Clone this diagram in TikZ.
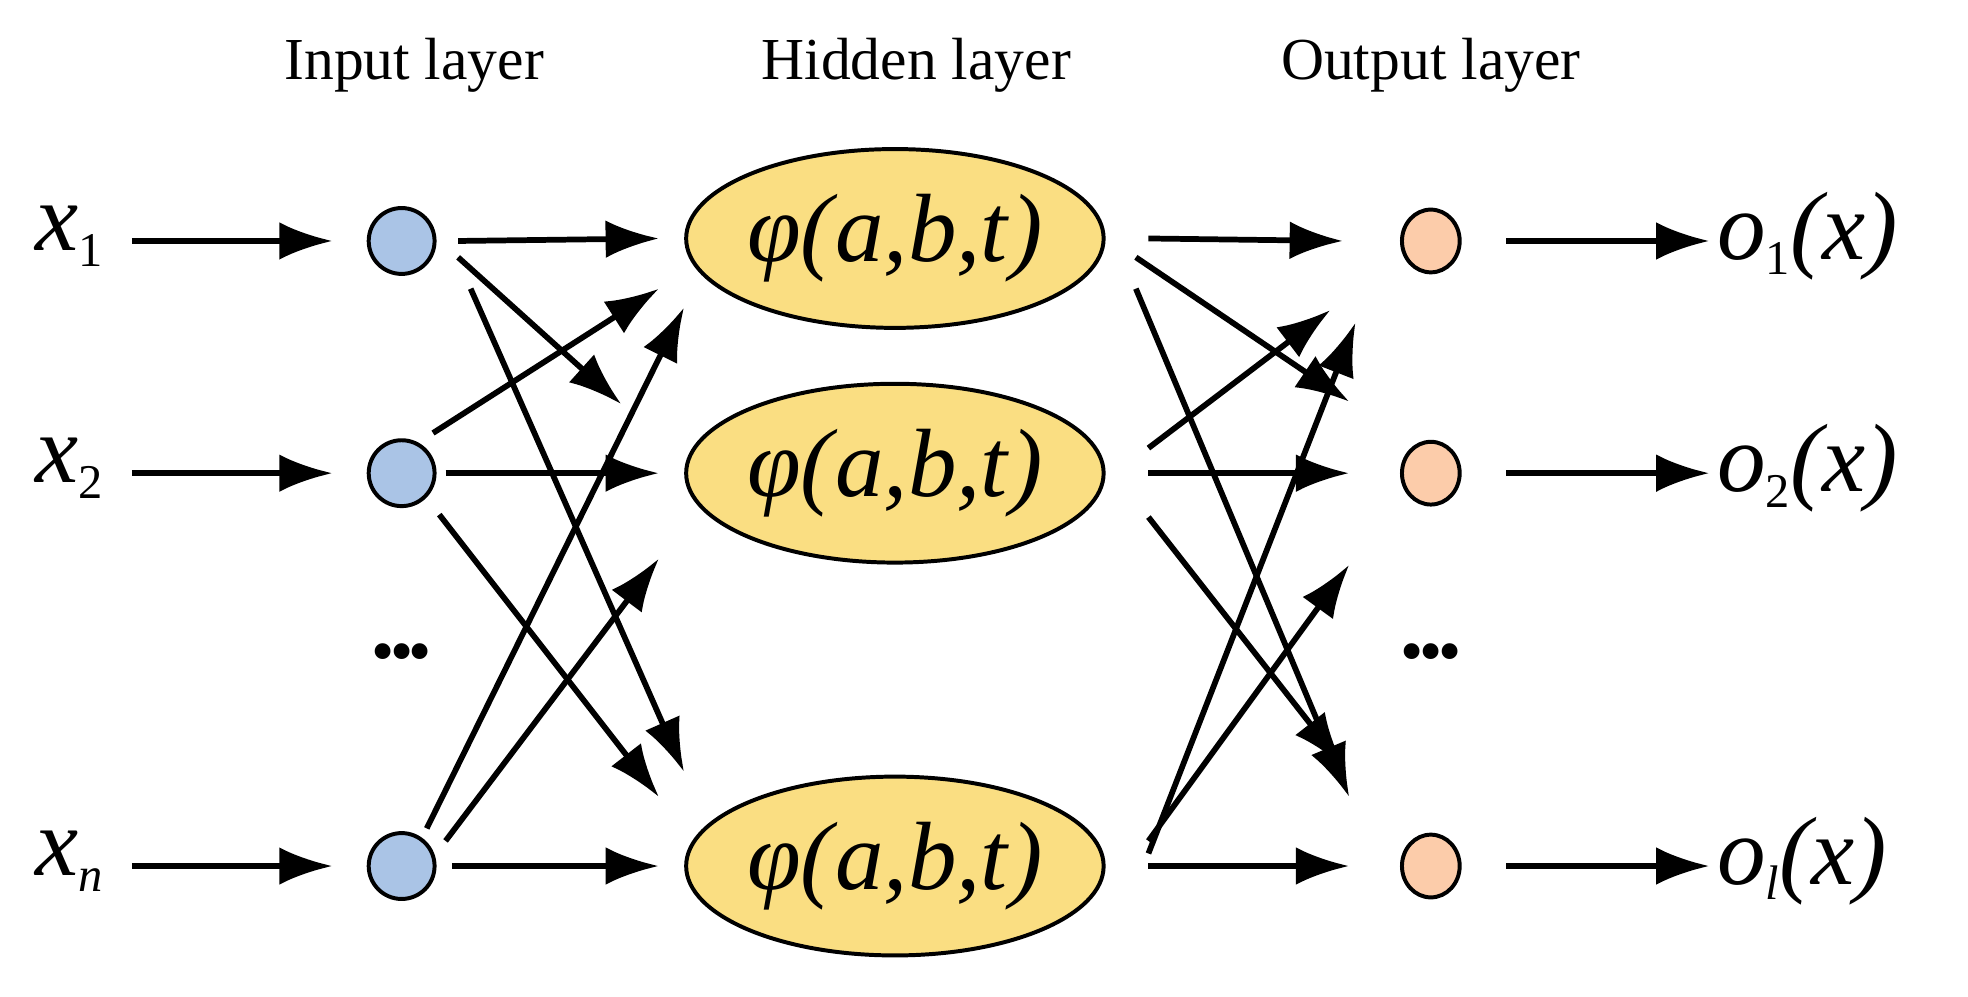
\documentclass[tikz,border=0pt]{standalone}
\usepackage{fontspec}
\setmainfont{Liberation Serif}
\usetikzlibrary{arrows.meta,shapes.geometric}
\newcommand{\sbs}[1]{\raisebox{-0.35ex}{\fontsize{22}{24}\selectfont\upshape #1}}
\begin{document}
\begin{tikzpicture}[x=0.02cm,y=-0.02cm,
  arr/.style={line width=2.6pt,-{Latex[length=0.85cm,width=0.6cm]}},
  inp/.style={circle,draw,line width=1.8pt,fill={rgb,255:red,170;green,196;blue,230},minimum width=1.05cm,inner sep=0pt},
  outn/.style={ellipse,draw,line width=1.8pt,fill={rgb,255:red,252;green,204;blue,170},minimum width=0.92cm,minimum height=1.0cm,inner sep=0pt},
  hid/.style={ellipse,draw,line width=1.8pt,fill={rgb,255:red,250;green,222;blue,130},minimum width=6.6cm,minimum height=2.85cm,inner sep=0pt,font=\fontsize{44}{48}\selectfont\itshape},
  ttl/.style={font=\fontsize{27}{30}\selectfont},
  lbl/.style={font=\fontsize{44}{48}\selectfont\itshape},
  dots/.style={font=\fontsize{30}{30}\selectfont}]
\useasboundingbox (0,0) rectangle (1568,794);
\node[ttl] (t1) at (330,52) {Input layer};
\node[ttl] (t2) at (730,52) {Hidden layer};
\node[ttl] (t3) at (1140,52) {Output layer};
\node[inp] (i1) at (320,192) {};
\node[inp] (i2) at (320,377) {};
\node[inp] (in) at (320,690) {};
\node[dots] (d1) at (320,525) {\textbullet\kern-2pt\textbullet\kern-2pt\textbullet};
\node[hid] (h1) at (713,190) {φ(\kern1pt a,b,t\kern1pt)};
\node[hid] (h2) at (713,377) {φ(\kern1pt a,b,t\kern1pt)};
\node[hid] (h3) at (713,690) {φ(\kern1pt a,b,t\kern1pt)};
\node[outn] (o1) at (1140,192) {};
\node[outn] (o2) at (1140,377) {};
\node[outn] (ol) at (1140,690) {};
\node[dots] (d2) at (1140,525) {\textbullet\kern-2pt\textbullet\kern-2pt\textbullet};
\node[lbl,anchor=west] (x1) at (22,188) {x\sbs{1}};
\node[lbl,anchor=west] (x2) at (22,373) {x\sbs{2}};
\node[lbl,anchor=west] (xn) at (22,686) {x\sbs{\itshape n}};
\node[lbl,anchor=west] (y1) at (1362,188) {o\sbs{1}(x)};
\node[lbl,anchor=west] (y2) at (1362,373) {o\sbs{2}(x)};
\node[lbl,anchor=west] (yl) at (1362,686) {o\sbs{\itshape l}(x)};
\draw[arr] (105,192) -- ([shift={(-55,0)}]i1.center);
\draw[arr] (105,377) -- ([shift={(-55,0)}]i2.center);
\draw[arr] (105,690) -- ([shift={(-55,0)}]in.center);
\draw[arr] ([shift={(60,0)}]o1.center) -- ([shift={(0,4)}]y1.west);
\draw[arr] ([shift={(60,0)}]o2.center) -- ([shift={(0,4)}]y2.west);
\draw[arr] ([shift={(60,0)}]ol.center) -- ([shift={(0,4)}]yl.west);
% input -> hidden
\draw[arr] ([shift={(45,0)}]i1.center) -- ([shift={(-188,0)}]h1.center);
\draw[arr] ([shift={(45,13)}]i1.center) -- ([shift={(-218,-55)}]h2.center);
\draw[arr] ([shift={(55,38)}]i1.center) -- ([shift={(-168,-75)}]h3.center);
\draw[arr] ([shift={(25,-32)}]i2.center) -- ([shift={(-188,40)}]h1.center);
\draw[arr] ([shift={(35,0)}]i2.center) -- ([shift={(-188,0)}]h2.center);
\draw[arr] ([shift={(30,33)}]i2.center) -- ([shift={(-188,-55)}]h3.center);
\draw[arr] ([shift={(20,-30)}]in.center) -- ([shift={(-168,55)}]h1.center);
\draw[arr] ([shift={(35,-20)}]in.center) -- ([shift={(-188,68)}]h2.center);
\draw[arr] ([shift={(40,0)}]in.center) -- ([shift={(-188,0)}]h3.center);
% hidden -> output
\draw[arr] ([shift={(202,0)}]h1.center) -- ([shift={(-70,0)}]o1.center);
\draw[arr] ([shift={(192,15)}]h1.center) -- ([shift={(-65,-57)}]o2.center);
\draw[arr] ([shift={(192,40)}]h1.center) -- ([shift={(-65,-55)}]ol.center);
\draw[arr] ([shift={(202,-20)}]h2.center) -- ([shift={(-80,55)}]o1.center);
\draw[arr] ([shift={(202,0)}]h2.center) -- ([shift={(-65,0)}]o2.center);
\draw[arr] ([shift={(202,35)}]h2.center) -- ([shift={(-70,-80)}]ol.center);
\draw[arr] ([shift={(202,-10)}]h3.center) -- ([shift={(-60,65)}]o1.center);
\draw[arr] ([shift={(202,-20)}]h3.center) -- ([shift={(-65,73)}]o2.center);
\draw[arr] ([shift={(202,0)}]h3.center) -- ([shift={(-65,0)}]ol.center);
\end{tikzpicture}
\end{document}
